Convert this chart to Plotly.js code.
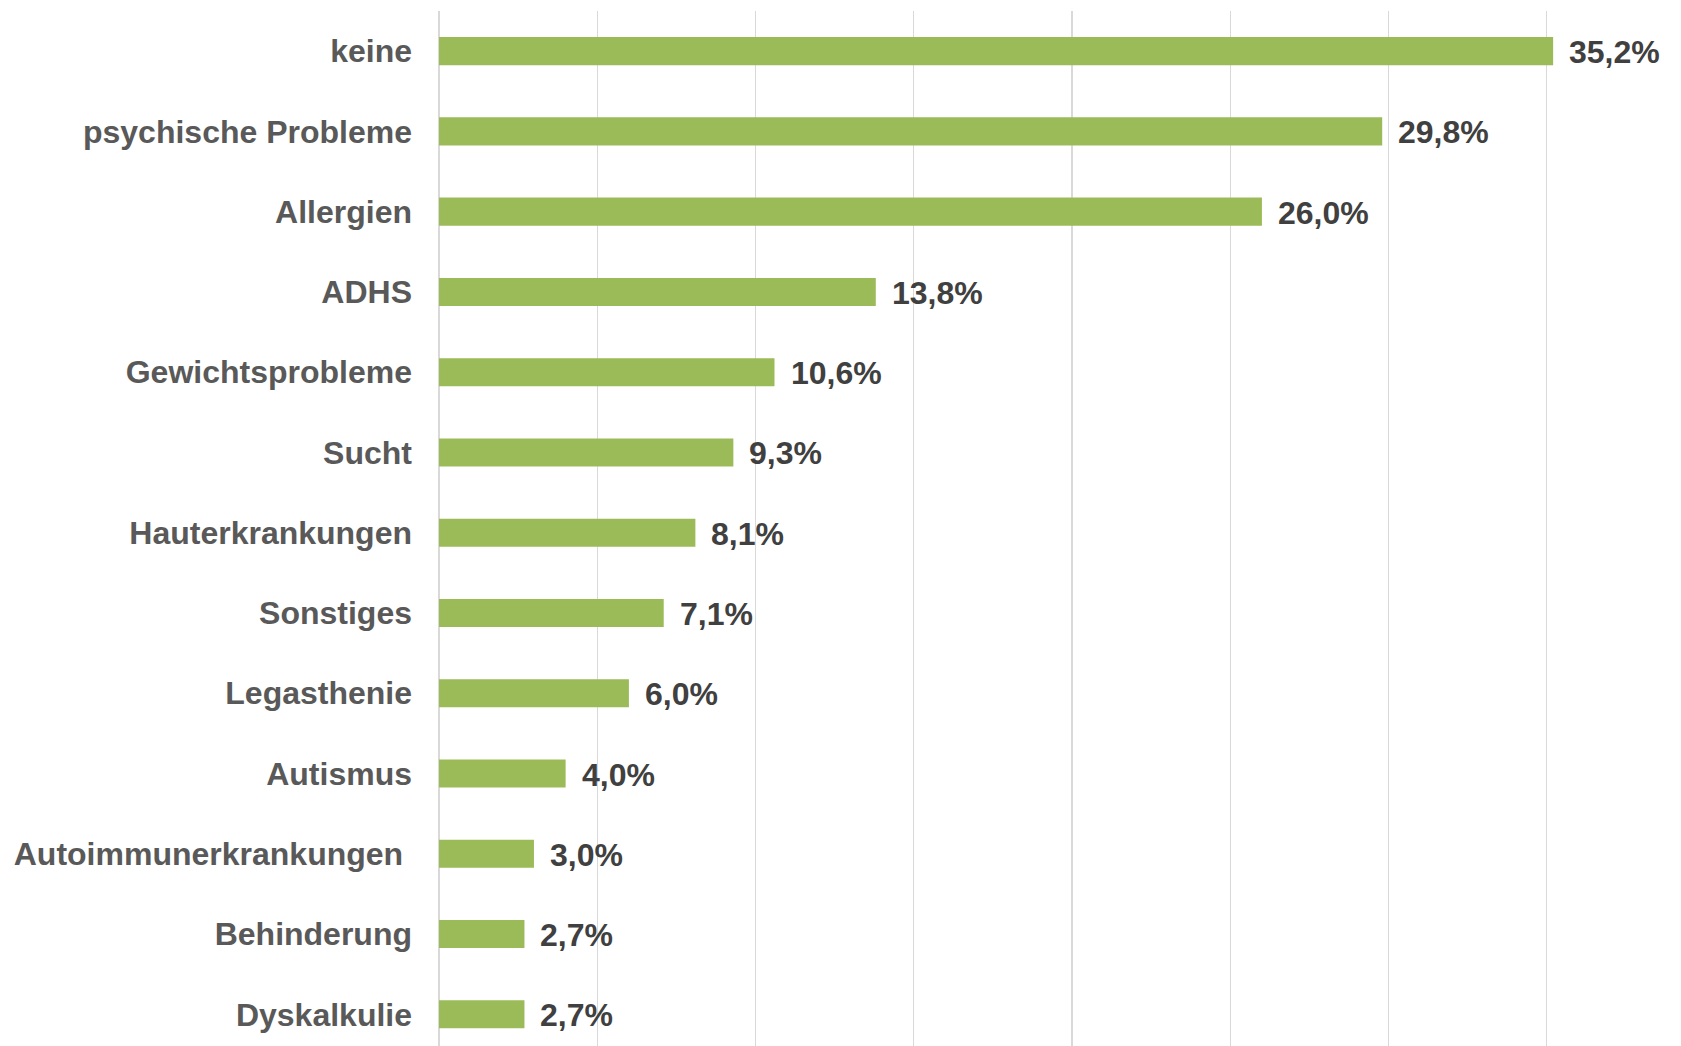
<!DOCTYPE html>
<html>
<head>
<meta charset="utf-8">
<script src="https://cdn.plot.ly/plotly-3.0.1.min.js"></script>
<style>
  html, body { margin: 0; padding: 0; background: #ffffff; }
  #chart { width: 1681px; height: 1046px; }
</style>
</head>
<body>
<div id="chart"></div>
<script>
const categories = [
  "keine",
  "psychische Probleme",
  "Allergien",
  "ADHS",
  "Gewichtsprobleme",
  "Sucht",
  "Hauterkrankungen",
  "Sonstiges",
  "Legasthenie",
  "Autismus",
  "Autoimmunerkrankungen\u00a0",
  "Behinderung",
  "Dyskalkulie"
];
const values = [35.2, 29.8, 26.0, 13.8, 10.6, 9.3, 8.1, 7.1, 6.0, 4.0, 3.0, 2.7, 2.7];
const valueLabels = values.map(v => v.toFixed(1).replace('.', ',') + '%');

const FONT = '"Liberation Sans", Arial, sans-serif';

const trace = {
  type: 'bar',
  orientation: 'h',
  x: values,
  y: categories,
  width: 0.35,
  marker: { color: '#9BBB59', line: { width: 0 } },
  hoverinfo: 'skip'
};

const annotations = values.map((v, i) => ({
  x: v,
  y: categories[i],
  xref: 'x',
  yref: 'y',
  text: valueLabels[i],
  showarrow: false,
  xanchor: 'left',
  yanchor: 'middle',
  xshift: 14,
  yshift: -1,
  font: { family: FONT, size: 32, color: '#404040', weight: 'bold' }
}));

const layout = {
  width: 1681,
  height: 1046,
  margin: { l: 439, r: 0, t: 10.5, b: 0, pad: 0 },
  paper_bgcolor: '#ffffff',
  plot_bgcolor: '#ffffff',
  showlegend: false,
  bargap: 0.65,
  xaxis: {
    range: [0, 39.24],
    dtick: 5,
    tick0: 0,
    showticklabels: false,
    ticks: '',
    showgrid: true,
    gridcolor: '#d9d9d9',
    gridwidth: 1.3,
    zeroline: true,
    zerolinecolor: '#d9d9d9',
    zerolinewidth: 1.3,
    showline: false,
    fixedrange: true
  },
  yaxis: {
    type: 'category',
    categoryorder: 'array',
    categoryarray: categories,
    range: [12.395, -0.5],
    ticks: '',
    showgrid: false,
    zeroline: false,
    showline: false,
    ticklabelstandoff: 26,
    tickfont: { family: FONT, size: 32, color: '#595959', weight: 'bold' },
    fixedrange: true
  },
  annotations: annotations
};

Plotly.newPlot('chart', [trace], layout, { displayModeBar: false, staticPlot: true });
</script>
</body>
</html>
